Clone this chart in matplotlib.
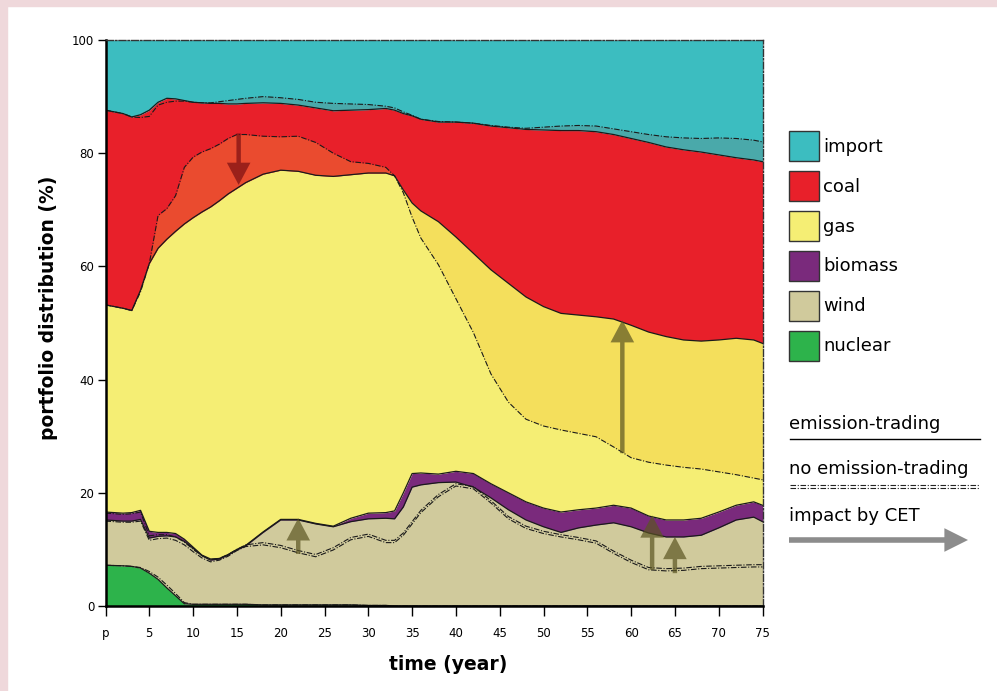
import numpy as np
import matplotlib
matplotlib.use('Agg')
import matplotlib.pyplot as plt
from matplotlib.patches import Patch, Rectangle
from matplotlib.lines import Line2D

# year 0 is labelled "p" on the axis
years = [0, 2, 3, 4, 5, 6, 7, 8,
         9, 10, 11, 12, 13, 14, 15, 16,
         18, 20, 22, 24, 26, 28, 30, 32,
         33, 34, 35, 36, 38, 40, 42, 44,
         46, 48, 50, 52, 54, 56, 58, 60,
         62, 64, 66, 68, 70, 72, 74, 75]

# upper edge of each layer in the stack (cumulative %), with emission trading
nuclear_et = [7.2, 7.1, 7.0, 6.7, 5.8, 4.7, 3.2, 1.8,
              0.4, 0.3, 0.3, 0.3, 0.3, 0.3, 0.3, 0.3,
              0.2, 0.2, 0.2, 0.2, 0.2, 0.2, 0.1, 0.1,
              0, 0, 0, 0, 0, 0, 0, 0,
              0, 0, 0, 0, 0, 0, 0, 0,
              0, 0, 0, 0, 0, 0, 0, 0]
wind_et = [15.2, 15.0, 15.0, 15.3, 12.0, 12.3, 12.4, 12.2,
           11.4, 10.2, 8.9, 8.1, 8.3, 9.0, 9.9, 10.6,
           13.0, 15.2, 15.2, 14.5, 14.0, 14.9, 15.4, 15.5,
           15.4, 17.5, 21.0, 21.4, 21.8, 21.9, 21.0, 19.1,
           17.0, 15.2, 14.0, 13.0, 13.8, 14.3, 14.7, 14.0,
           12.9, 12.2, 12.2, 12.5, 13.8, 15.2, 15.7, 14.9]
biomass_et = [16.6, 16.4, 16.5, 16.9, 13.2, 13.0, 13.0, 12.8,
              11.8, 10.4, 9.0, 8.3, 8.4, 9.1, 10.0, 10.7,
              13.1, 15.3, 15.3, 14.6, 14.1, 15.5, 16.4, 16.5,
              16.8, 20.0, 23.4, 23.5, 23.3, 23.8, 23.4, 21.6,
              20.0, 18.4, 17.3, 16.6, 17.0, 17.3, 17.8, 17.3,
              15.9, 15.2, 15.2, 15.5, 16.6, 17.8, 18.4, 17.8]
gas_et = [53.2, 52.6, 52.2, 55.8, 60.5, 63.2, 64.8, 66.2,
          67.5, 68.6, 69.6, 70.5, 71.6, 72.8, 73.8, 74.8,
          76.3, 77.0, 76.8, 76.1, 75.9, 76.2, 76.5, 76.5,
          76.0, 73.5, 71.2, 69.8, 67.9, 65.2, 62.3, 59.4,
          57.0, 54.6, 52.9, 51.7, 51.4, 51.1, 50.7, 49.6,
          48.4, 47.6, 47.0, 46.8, 47.0, 47.3, 47.0, 46.4]
coal_et = [87.6, 87.0, 86.4, 86.8, 87.6, 89.0, 89.7, 89.6,
           89.3, 89.0, 88.9, 88.8, 88.8, 88.7, 88.7, 88.8,
           88.9, 88.8, 88.5, 88.0, 87.5, 87.6, 87.7, 87.9,
           87.6, 87.0, 86.6, 86.0, 85.5, 85.5, 85.3, 84.8,
           84.5, 84.2, 84.1, 84.0, 84.0, 83.8, 83.3, 82.6,
           81.9, 81.1, 80.6, 80.2, 79.7, 79.2, 78.8, 78.5]

# same edges without emission trading (dashed lines)
nuclear_no = [7.2, 7.1, 7.0, 6.8, 6.1, 5.1, 3.7, 2.2,
              0.6, 0.3, 0.3, 0.3, 0.3, 0.3, 0.3, 0.3,
              0.2, 0.2, 0.2, 0.2, 0.2, 0.2, 0.1, 0.1,
              0, 0, 0, 0, 0, 0, 0, 0,
              0, 0, 0, 0, 0, 0, 0, 0,
              0, 0, 0, 0, 0, 0, 0, 0]
wind_no = [15.0, 14.8, 14.8, 15.0, 11.6, 11.9, 12.0, 11.6,
           10.8, 9.6, 8.5, 7.8, 8.1, 8.8, 9.8, 10.5,
           10.8, 10.3, 9.4, 8.7, 9.9, 11.7, 12.3, 11.2,
           11.2, 12.5, 14.5, 16.5, 19.3, 21.2, 20.7, 18.2,
           15.4, 13.7, 12.8, 12.2, 11.7, 11.1, 9.3, 7.7,
           6.4, 6.2, 6.3, 6.6, 6.7, 6.8, 6.9, 6.9]
biomass_no = [16.4, 16.2, 16.3, 16.6, 12.4, 12.6, 12.6, 12.2,
              11.3, 10.0, 8.9, 8.2, 8.4, 9.1, 10.0, 10.8,
              11.2, 10.7, 9.8, 9.1, 10.3, 12.1, 12.7, 11.6,
              11.6, 12.9, 14.9, 16.9, 19.7, 21.6, 21.1, 18.6,
              15.8, 14.1, 13.2, 12.6, 12.1, 11.5, 9.7, 8.1,
              6.8, 6.6, 6.7, 7.0, 7.1, 7.2, 7.3, 7.3]
gas_no = [53.2, 52.6, 52.2, 55.5, 60.5, 69.0, 70.2, 72.5,
          77.5, 79.3, 80.2, 80.8, 81.6, 82.6, 83.3, 83.3,
          83.0, 82.9, 83.0, 81.9, 80.0, 78.5, 78.2, 77.5,
          76.0, 73.0, 68.7, 65.0, 60.3, 54.3, 48.3, 41.0,
          36.0, 33.0, 31.8, 31.1, 30.5, 29.9, 28.1, 26.2,
          25.4, 24.9, 24.5, 24.2, 23.7, 23.2, 22.6, 22.3]
coal_no = [87.6, 87.0, 86.4, 86.3, 86.5, 88.5, 89.0, 89.2,
           89.2, 89.0, 88.9, 88.9, 89.1, 89.3, 89.5, 89.7,
           90.0, 89.8, 89.5, 89.0, 88.8, 88.7, 88.6, 88.3,
           88.0, 87.3, 86.7, 86.0, 85.6, 85.5, 85.3, 84.9,
           84.6, 84.4, 84.6, 84.8, 84.9, 84.8, 84.3, 83.8,
           83.3, 82.9, 82.7, 82.6, 82.7, 82.6, 82.3, 82.0]

# "impact by CET" arrows
arrow_year = [15.2, 22.0, 59.0, 62.4, 65.0]
arrow_from = [83.5, 9.2, 27.0, 6.4, 5.8]
arrow_to = [74.4, 15.5, 50.5, 16.0, 12.2]
arrow_color = ['#7a0f12', '#5b5522', '#5b5522', '#5b5522', '#5b5522']

legend_names = ['import', 'coal', 'gas', 'biomass', 'wind', 'nuclear']
colors = {'import': '#3cbdc0', 'coal': '#e8202a', 'gas': '#f5ee74',
          'biomass': '#7a2a7c', 'wind': '#d0ca9c', 'nuclear': '#2db34b'}

x = np.array(years)
N, W, B = np.array(nuclear_et), np.array(wind_et), np.array(biomass_et)
G, C = np.array(gas_et), np.array(coal_et)
Gn, Cn = np.array(gas_no), np.array(coal_no)

fig = plt.figure(figsize=(9.97, 6.91), dpi=100)
fig.patch.set_facecolor('white')
fig.add_artist(Rectangle((0, 1 - 6 / 691), 1, 6 / 691, transform=fig.transFigure,
                         color='#efd8db', zorder=0))
fig.add_artist(Rectangle((0, 0), 7 / 997, 1, transform=fig.transFigure,
                         color='#efd8db', zorder=0))

ax = fig.add_axes([105.5 / 997, 85 / 691, 657 / 997, 566 / 691])

# stacked layers (emission-trading)
ax.fill_between(x, 0, N, color=colors['nuclear'], lw=0)
ax.fill_between(x, N, W, color=colors['wind'], lw=0)
ax.fill_between(x, W, B, color=colors['biomass'], lw=0)
ax.fill_between(x, B, G, color=colors['gas'], lw=0)
ax.fill_between(x, G, C, color=colors['coal'], lw=0)
ax.fill_between(x, C, 100, color=colors['import'], lw=0)

# difference areas between the two scenarios
ax.fill_between(x, G, Gn, where=Gn > G, interpolate=True, color='#ea4b2f', lw=0)
ax.fill_between(x, Gn, G, where=Gn < G, interpolate=True, color='#f4df5c', lw=0)
ax.fill_between(x, C, Cn, where=Cn > C, interpolate=True, color='#4aa9aa', lw=0)

# boundary lines
for edge in [nuclear_et, wind_et, biomass_et, gas_et, coal_et]:
    ax.plot(x, edge, color='#1a1a1a', lw=0.9)
dash = (0, (5, 1.5, 1, 1.5))
for edge in [nuclear_no, wind_no, biomass_no, gas_no, coal_no]:
    ax.plot(x, edge, color='#1a1a1a', lw=0.8, linestyle=dash)

for yr, y0, y1, c in zip(arrow_year, arrow_from, arrow_to, arrow_color):
    ax.annotate('', xy=(yr, y1), xytext=(yr, y0),
                arrowprops=dict(width=3.2, headwidth=17, headlength=16,
                                facecolor=c, edgecolor='none', alpha=0.7, shrink=0))

ax.set_xlim(0, 75)
ax.set_ylim(0, 100)
ax.set_xticks(range(0, 76, 5))
ax.set_xticklabels(['p'] + [str(v) for v in range(5, 76, 5)])
ax.set_yticks(range(0, 101, 20))
ax.tick_params(axis='x', direction='out', length=7, width=1, pad=8, labelsize=8.5)
ax.tick_params(axis='y', direction='out', length=6, width=1, pad=2, labelsize=8.5)
for s in ['left', 'bottom']:
    ax.spines[s].set_linewidth(1.8)
for s in ['top', 'right']:
    ax.spines[s].set_linewidth(1)
    ax.spines[s].set_linestyle((0, (5, 1.5, 1, 1.5)))
    ax.spines[s].set_color('#333333')

ax.set_ylabel('portfolio distribution (%)', fontsize=13.5, fontweight='bold')
ax.yaxis.set_label_coords(-0.072, 0.527)
ax.set_xlabel('time (year)', fontsize=13.5, fontweight='bold')
ax.xaxis.set_label_coords(0.521, -0.086)

# colour legend
handles = [Patch(facecolor=colors[n], edgecolor='#333333', lw=1) for n in legend_names]
fig.legend(handles, legend_names, loc='upper left',
           bbox_to_anchor=(789 / 997, 1 - 131 / 691), frameon=False, fontsize=13,
           handlelength=1.65, handleheight=2.18, labelspacing=0.55, handletextpad=0.25,
           borderpad=0, borderaxespad=0)

# line-style legend
def fy(py):
    return 1 - py / 691

fig.text(789 / 997, fy(424), 'emission-trading', fontsize=13, va='center')
fig.add_artist(Line2D([790 / 997, 980 / 997], [fy(439)] * 2, transform=fig.transFigure,
                      color='black', lw=1))
fig.text(789 / 997, fy(469), 'no emission-trading', fontsize=13, va='center')
for py in [485, 488]:
    fig.add_artist(Line2D([790 / 997, 980 / 997], [fy(py)] * 2, transform=fig.transFigure,
                          color='#222222', lw=0.8, linestyle=dash))
fig.text(789 / 997, fy(516), 'impact by CET', fontsize=13, va='center')
ax.annotate('', xy=(968 / 997, fy(540)), xytext=(789 / 997, fy(540)),
            xycoords='figure fraction', textcoords='figure fraction',
            arrowprops=dict(width=4, headwidth=17, headlength=17,
                            facecolor='#8c8c8c', edgecolor='none', shrink=0))

fig.savefig('out.png', dpi=100)
